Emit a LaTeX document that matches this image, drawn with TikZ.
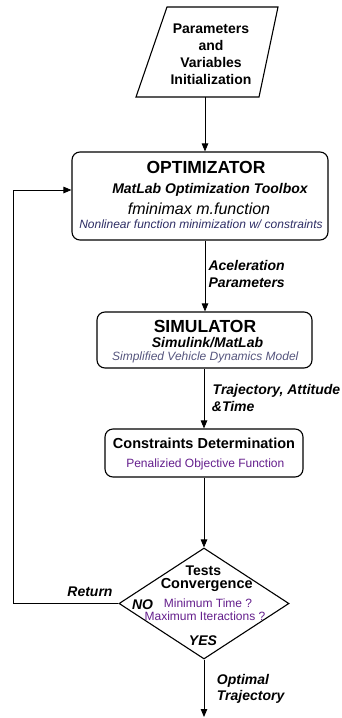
\documentclass[tikz,border=0pt]{standalone}
\usepackage{fontspec}
\setmainfont{Liberation Sans}
\usetikzlibrary{arrows.meta,shapes.geometric}
\definecolor{navytext}{RGB}{45,45,100}
\definecolor{slatetext}{RGB}{85,85,125}
\definecolor{purpletext}{RGB}{100,30,140}
\tikzset{
  box/.style={draw, line width=1.1pt, rounded corners=8pt, inner sep=0pt},
  flow/.style={draw, line width=0.9pt, -{Triangle[length=8pt,width=6.5pt]}},
  txt/.style={anchor=base, inner sep=0pt},
  lbl/.style={anchor=base west, inner sep=0pt, font=\fontsize{14}{17}\selectfont\bfseries\itshape},
  lblc/.style={anchor=base, inner sep=0pt, font=\fontsize{14}{17}\selectfont\bfseries\itshape},
  bigtitle/.style={txt, font=\fontsize{17.5}{20}\selectfont\bfseries},
  subtitle/.style={txt, font=\fontsize{14}{17}\selectfont\bfseries\itshape},
  smalltxt/.style={txt, font=\fontsize{12}{14}\selectfont},
}
\begin{document}
\begin{tikzpicture}[x=1pt,y=-1pt]
\useasboundingbox (0,0) rectangle (342,718);

% input parallelogram
\draw[line width=1.1pt] (167,7) -- (278,7) -- (259,97) -- (136,97) -- cycle;
\node[align=center, font=\fontsize{14}{17}\selectfont\bfseries, inner sep=0pt] (init) at (211,54)
  {Parameters\\and\\Variables\\Initialization};
\coordinate (initb) at (205,97);

% optimizer
\node[box, minimum width=256pt, minimum height=88pt] (opt) at (200,196) {};
\node[bigtitle] (optA) at (206,173) {OPTIMIZATOR};
\node[subtitle] (optB) at (210,193) {MatLab Optimization Toolbox};
\node[txt, font=\fontsize{16}{19}\selectfont\itshape] (optC) at (199,214) {fminimax m.function};
\node[smalltxt, font=\fontsize{12}{14}\selectfont\itshape, text=navytext] (optD) at (201,228)
  {Nonlinear function minimization w/ constraints};

% simulator
\node[box, minimum width=215pt, minimum height=56pt] (sim) at (204.5,340) {};
\node[bigtitle] (simA) at (205,332) {SIMULATOR};
\node[subtitle] (simB) at (207.5,347) {Simulink/MatLab};
\node[smalltxt, font=\fontsize{12}{14}\selectfont\itshape, text=slatetext] (simC) at (205.3,360)
  {Simplified Vehicle Dynamics Model};

% constraints
\node[box, minimum width=198pt, minimum height=48pt] (con) at (204,453) {};
\node[txt, font=\fontsize{14.5}{17}\selectfont\bfseries] (conA) at (204,448) {Constraints Determination};
\node[smalltxt, text=purpletext] (conB) at (205.3,467) {Penalizied Objective Function};

% decision
\node[draw, diamond, line width=1.1pt, minimum width=170pt, minimum height=111pt, inner sep=0pt] (dec) at (204,603.5) {};
\node[txt, font=\fontsize{14}{17}\selectfont\bfseries] (decA) at (203.3,575) {Tests};
\node[txt, font=\fontsize{14.5}{17}\selectfont\bfseries] (decB) at (206.7,588) {Convergence};
\node[smalltxt, text=purpletext] (decC) at (208,607) {Minimum Time ?};
\node[smalltxt, text=purpletext] (decD) at (205,620.7) {Maximum Iteractions ?};
\node[lblc] (no) at (142.5,609) {NO};
\node[lblc] (yes) at (203,645) {YES};

% connectors
\draw[flow] (initb) -- (initb |- opt.north);
\draw[flow] (opt.south -| initb) -- (sim.north -| initb);
\draw[flow] (con.north |- sim.south) -- (con.north);
\draw[flow] (con.south) -- (dec.north);
\coordinate (loopx) at (13,603.5);
\coordinate (opin) at ([yshift=6pt]opt.west);
\draw[flow] (dec.west) -- (loopx) |- (opin);
\coordinate (endpt) at (204,717);
\draw[flow] (dec.south) -- (endpt);

% labels
\node[lbl] (accA) at (208.3,270) {Aceleration};
\node[lbl] (accB) at (208.3,287) {Parameters};
\node[lbl] (trA) at (212.5,394) {Trajectory, Attitude};
\node[lbl] (trB) at (211.7,411) {\&Time};
\node[lblc] (ret) at (90,596) {Return};
\node[lbl] (outA) at (216.7,684) {Optimal};
\node[lbl] (outB) at (216.7,700) {Trajectory};
\end{tikzpicture}
\end{document}
